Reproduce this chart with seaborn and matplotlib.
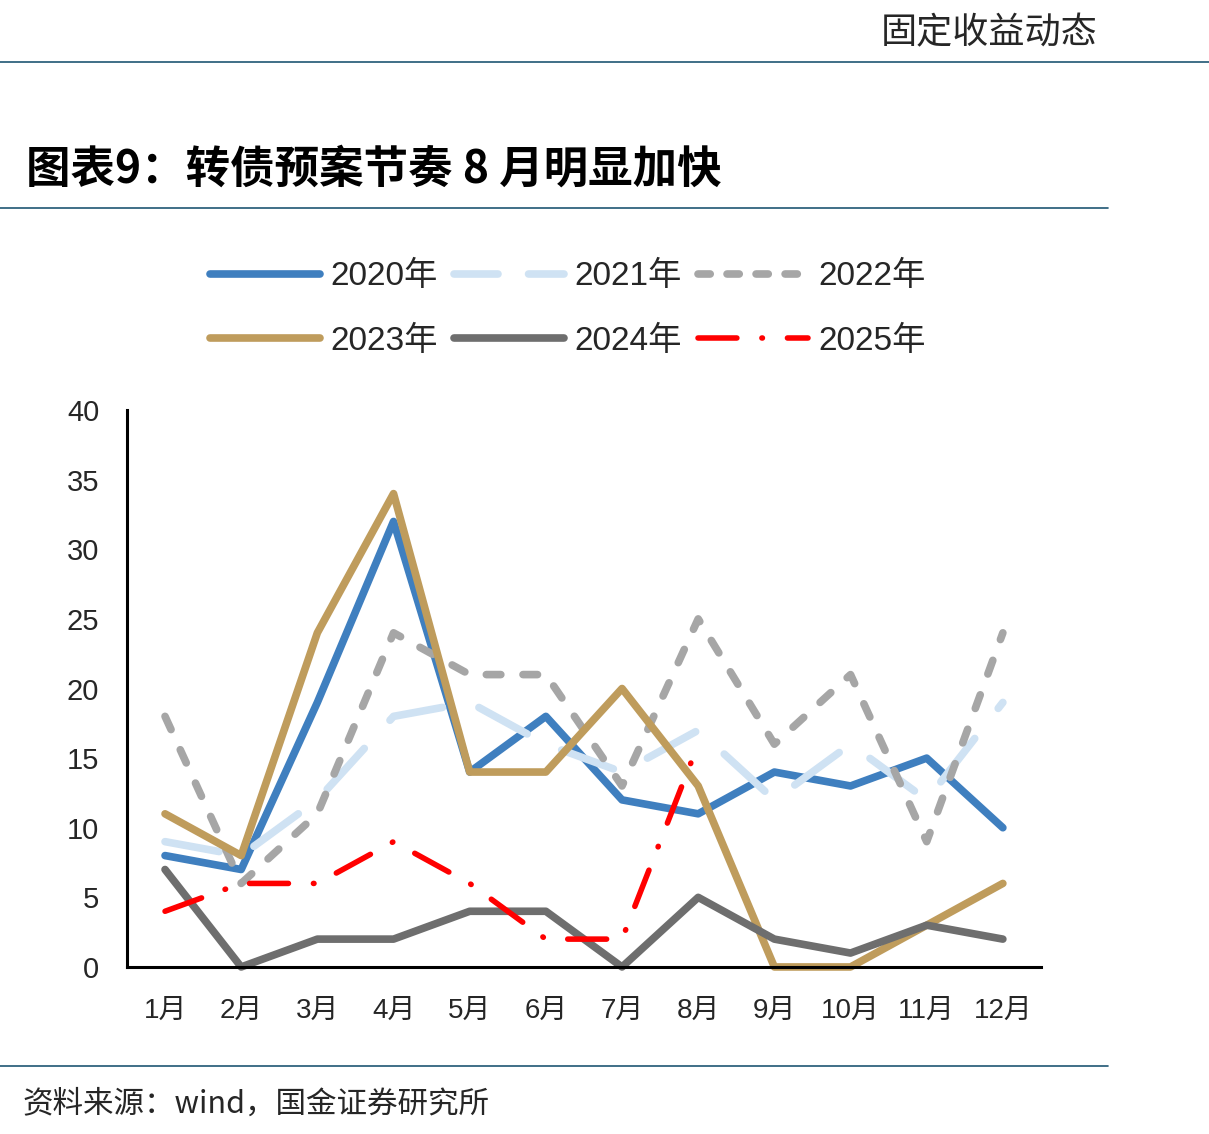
import numpy as np
import pandas as pd
import matplotlib
matplotlib.use("Agg")
import matplotlib.pyplot as plt
import seaborn as sns
from matplotlib.lines import Line2D

# 数据：各年份每月转债预案数量
months = ["1月", "2月", "3月", "4月", "5月", "6月", "7月", "8月", "9月", "10月", "11月", "12月"]
y2020 = [8, 7, 19, 32, 14, 18, 12, 11, 14, 13, 15, 10]
y2021 = [9, 8, 12, 18, 19, 16, 14, 17, 12, 16, 12, 19]
y2022 = [18, 6, 11, 24, 21, 21, 13, 25, 16, 21, 9, 24]
y2023 = [11, 8, 24, 34, 14, 14, 20, 13, 0, 0, 3, 6]
y2024 = [7, 0, 2, 2, 4, 4, 0, 5, 2, 1, 3, 2]
y2025 = [4, 6, 6, 9, 6, 2, 2, 16]
years = ["2020年", "2021年", "2022年", "2023年", "2024年", "2025年"]

sns.set_style("white")
plt.rcParams['font.family'] = ['Liberation Sans', 'Noto Sans CJK SC', 'DejaVu Sans']

colors = ["#3F7FBF", "#CFE2F3", "#A6A6A6", "#BF9C5C", "#6E6E6E", "#FF0000"]
widths = [5.5, 5.5, 5.5, 5.5, 5.5, 4.0]
dashes = [None, (7.2, 5.0), (1.9, 2.9), None, None, (7.0, 4.5, 0.1, 4.5)]
series = [y2020, y2021, y2022, y2023, y2024, y2025]

fig = plt.figure(figsize=(12.09, 11.34), dpi=100)
ax = fig.add_axes([0.105, 0.1473, 0.756, 0.4911])

handles = []
for name, vals, c, lw, d in zip(years, series, colors, widths, dashes):
    df = pd.DataFrame({"m": np.arange(len(vals)), "v": vals})
    sns.lineplot(data=df, x="m", y="v", ax=ax, color=c, linewidth=lw, legend=False)
    ln = ax.lines[-1]
    ln.set_clip_on(False)
    ln.set_solid_capstyle("round")
    ln.set_dash_capstyle("round")
    ln.set_solid_joinstyle("round")
    ln.set_dash_joinstyle("round")
    if d is not None:
        ln.set_dashes(d)
    h = Line2D([], [], color=c, linewidth=lw, solid_capstyle="round", dash_capstyle="round")
    if d is not None:
        h.set_dashes(d if len(d) == 4 else (d[0] * 0.8, d[1] * 0.8) if d[0] > 3 else (1.6, 2.2))
    handles.append(h)

ax.set_xlim(-0.5, 11.5)
ax.set_ylim(0, 40)
ax.set_yticks(np.arange(0, 41, 5))
ax.set_xticks(np.arange(12))
ax.set_xticklabels(months)
ax.set_xticks(np.arange(-0.5, 12, 1), minor=True)
ax.set_xlabel("")
ax.set_ylabel("")
ax.tick_params(axis="x", which="major", length=0, pad=22, labelsize=20)
ax.tick_params(axis="x", which="minor", direction="in", length=6, width=2.2)
ax.tick_params(axis="y", direction="in", length=6, width=2.2, pad=20, labelsize=21)
for s in ["top", "right"]:
    ax.spines[s].set_visible(False)
for s in ["left", "bottom"]:
    ax.spines[s].set_linewidth(2.2)
    ax.spines[s].set_color("black")

# 图例按行排列
order = [0, 3, 1, 4, 2, 5]
fig.legend([handles[i] for i in order], [years[i] for i in order], ncol=3,
           loc="center", bbox_to_anchor=(568 / 1209, 1 - 309 / 1134), frameon=False,
           prop={"family": ['Liberation Sans', 'Noto Sans CJK SC'], "size": 24},
           handlelength=3.3, handletextpad=0.3, columnspacing=0.5, labelspacing=1.0)

line_c = "#1F5673"
fig.add_artist(Line2D([0, 1], [1 - 62 / 1134] * 2, color=line_c, lw=1.2, transform=fig.transFigure))
fig.add_artist(Line2D([0, 1108 / 1209], [1 - 208 / 1134] * 2, color=line_c, lw=1.2, transform=fig.transFigure))
fig.add_artist(Line2D([0, 1108 / 1209], [1 - 1066 / 1134] * 2, color=line_c, lw=1.2, transform=fig.transFigure))

fig.text(1097 / 1209, 1 - 33 / 1134, "固定收益动态", ha="right", va="center",
         fontsize=26, family=['Noto Sans CJK SC'], fontweight="light")
fig.text(26 / 1209, 1 - 170 / 1134, "图表9：转债预案节奏 8 月明显加快", ha="left", va="center",
         fontsize=32, family=['Noto Sans CJK SC'], fontweight="bold", color="black")
fig.text(22 / 1209, 1 - 1104 / 1134, "资料来源：wind，国金证券研究所", ha="left", va="center",
         fontsize=22, family=['Noto Sans CJK SC'])

fig.savefig("out.png", dpi=100)
